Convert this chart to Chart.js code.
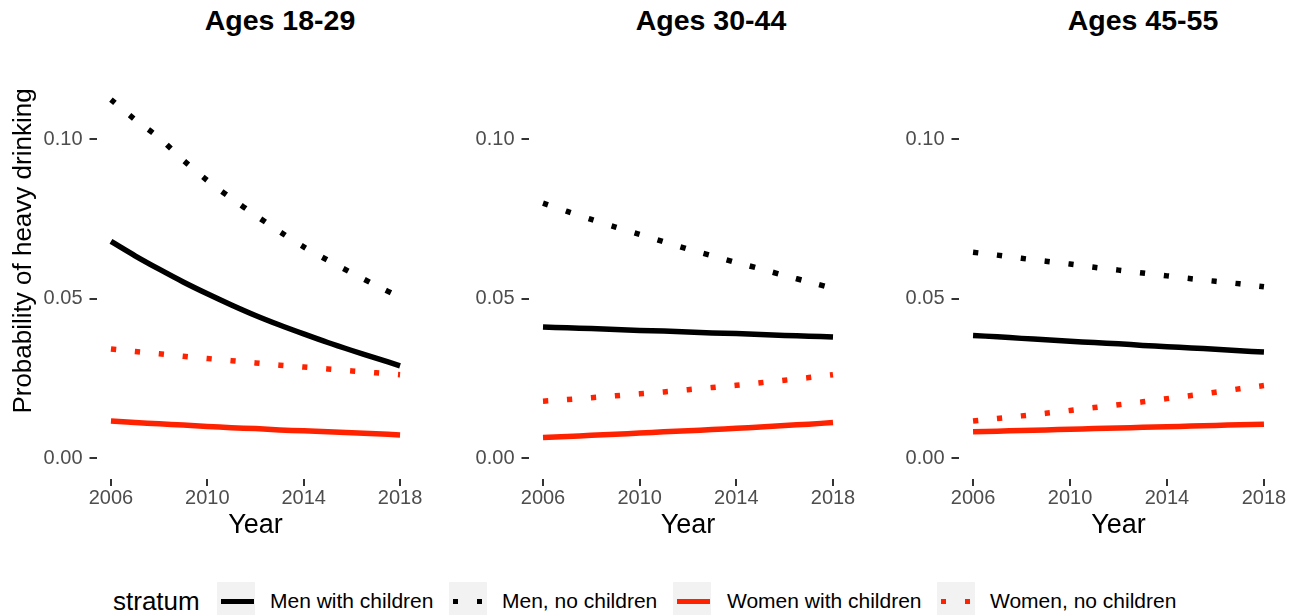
<!DOCTYPE html>
<html>
<head>
<meta charset="utf-8">
<script src="https://cdn.jsdelivr.net/npm/chart.js@4/dist/chart.umd.min.js"></script>
<style>
  html,body{margin:0;padding:0;background:#fff;}
  body{width:1303px;height:615px;overflow:hidden;position:relative;font-family:"Liberation Sans",Arial,Helvetica,sans-serif;}
  .panel{position:absolute;top:0;}
  .ptitle{position:absolute;top:6px;font-weight:bold;font-size:28.5px;line-height:28.5px;color:#000;transform:translateX(-50%);white-space:nowrap;}
  .legend{position:absolute;left:0;top:582px;height:38px;width:1303px;}
  .ltitle{position:absolute;top:0;height:38px;line-height:38px;font-size:26px;color:#000;}
  .lkey{position:absolute;top:0;width:38px;height:38px;background:#f2f2f2;}
  .lkey .seg{position:absolute;}
  .llabel{position:absolute;top:0;height:38px;line-height:38px;font-size:21px;color:#000;white-space:nowrap;}
</style>
</head>
<body>
<div class="ptitle" style="left:280px">Ages 18-29</div>
<div class="ptitle" style="left:711px">Ages 30-44</div>
<div class="ptitle" style="left:1143px">Ages 45-55</div>

<div class="panel" style="left:0px;width:430px;height:542px"><canvas id="c1" width="430" height="542"></canvas></div>
<div class="panel" style="left:460px;width:402px;height:542px"><canvas id="c2" width="402" height="542"></canvas></div>
<div class="panel" style="left:890px;width:403px;height:542px"><canvas id="c3" width="403" height="542"></canvas></div>

<div class="legend" id="legend"></div>

<script>
// ---- data ----
const years = [2006, 2007, 2008, 2009, 2010, 2011, 2012, 2013, 2014, 2015, 2016, 2017, 2018];
const panelTitles = ["Ages 18-29", "Ages 30-44", "Ages 45-55"];
const strata = ["Men with children", "Men, no children", "Women with children", "Women, no children"];
const xTicks = [2006, 2010, 2014, 2018];
const yTicks = [0.00, 0.05, 0.10];

// Ages 18-29
const menChildren1   = [0.0680, 0.0635, 0.0593, 0.0553, 0.0516, 0.0481, 0.0448, 0.0418, 0.0390, 0.0363, 0.0338, 0.0314, 0.0290];
const menNoChildren1 = [0.1125, 0.1062, 0.1005, 0.0935, 0.0871, 0.0815, 0.0762, 0.0711, 0.0663, 0.0621, 0.0581, 0.0542, 0.0505];
const womenChildren1 = [0.0117, 0.0112, 0.0108, 0.0104, 0.0100, 0.0096, 0.0093, 0.0089, 0.0086, 0.0083, 0.0080, 0.0077, 0.0073];
const womenNoChildren1 = [0.0343, 0.0335, 0.0328, 0.0320, 0.0313, 0.0306, 0.0299, 0.0292, 0.0286, 0.0280, 0.0274, 0.0268, 0.0262];
// Ages 30-44
const menChildren2   = [0.0412, 0.0409, 0.0407, 0.0404, 0.0401, 0.0399, 0.0396, 0.0393, 0.0391, 0.0388, 0.0385, 0.0383, 0.0380];
const menNoChildren2 = [0.0800, 0.0774, 0.0749, 0.0725, 0.0702, 0.0679, 0.0656, 0.0635, 0.0614, 0.0594, 0.0573, 0.0553, 0.0533];
const womenChildren2 = [0.0065, 0.0068, 0.0072, 0.0075, 0.0079, 0.0083, 0.0086, 0.0090, 0.0094, 0.0098, 0.0103, 0.0107, 0.0112];
const womenNoChildren2 = [0.0179, 0.0184, 0.0190, 0.0196, 0.0202, 0.0208, 0.0215, 0.0222, 0.0229, 0.0237, 0.0245, 0.0253, 0.0262];
// Ages 45-55
const menChildren3   = [0.0385, 0.0381, 0.0376, 0.0372, 0.0367, 0.0363, 0.0359, 0.0354, 0.0350, 0.0346, 0.0342, 0.0337, 0.0333];
const menNoChildren3 = [0.0646, 0.0637, 0.0627, 0.0618, 0.0609, 0.0599, 0.0590, 0.0581, 0.0572, 0.0563, 0.0555, 0.0547, 0.0538];
const womenChildren3 = [0.0083, 0.0085, 0.0087, 0.0089, 0.0091, 0.0093, 0.0095, 0.0097, 0.0099, 0.0101, 0.0103, 0.0105, 0.0107];
const womenNoChildren3 = [0.0117, 0.0125, 0.0133, 0.0141, 0.0150, 0.0159, 0.0168, 0.0177, 0.0187, 0.0197, 0.0207, 0.0218, 0.0228];

// ---- styling ----
const FONT = '"Liberation Sans", Arial, Helvetica, sans-serif';
const BLACK = '#000000';
const RED = '#ff2200';
const LW = 5.5;
const DOT = [5.5, 18.5];
const styles = [
  {color: BLACK, dash: []},
  {color: BLACK, dash: DOT},
  {color: RED, dash: []},
  {color: RED, dash: DOT}
];

function toXY(arr){ return years.map((y, i) => ({x: y, y: arr[i]})); }

function makeChart(id, series, opts){
  const datasets = series.map((arr, i) => ({
    label: strata[i],
    data: toXY(arr),
    borderColor: styles[i].color,
    backgroundColor: styles[i].color,
    borderWidth: LW,
    borderDash: styles[i].dash,
    borderCapStyle: 'butt',
    borderJoinStyle: 'round',
    pointRadius: 0,
    tension: 0.3,
    fill: false
  }));
  return new Chart(document.getElementById(id), {
    type: 'line',
    data: {datasets},
    options: {
      responsive: false,
      animation: false,
      events: [],
      layout: {padding: {top: 23, right: opts.padRight, left: 0, bottom: 0}},
      plugins: {legend: {display: false}, tooltip: {enabled: false}, title: {display: false}},
      scales: {
        x: {
          type: 'linear',
          min: 2005.4, max: 2018.6,
          afterBuildTicks: s => { s.ticks = xTicks.map(v => ({value: v})); },
          afterFit: s => { s.height = 63; },
          ticks: {
            autoSkip: false, maxRotation: 0, padding: 0,
            color: '#4d4d4d', font: {family: FONT, size: 20},
            callback: v => String(v)
          },
          grid: {display: true, drawOnChartArea: false, drawTicks: true, tickLength: 7, color: '#333333', lineWidth: 2},
          border: {display: false},
          title: {display: true, text: 'Year', color: '#000', font: {family: FONT, size: 27}, padding: {top: 0, bottom: 0}}
        },
        y: {
          type: 'linear',
          min: -0.0065, max: 0.1365,
          afterBuildTicks: s => { s.ticks = yTicks.map(v => ({value: v})); },
          afterFit: s => { s.width = opts.yWidth; },
          ticks: {
            autoSkip: false, padding: 7,
            color: '#4d4d4d', font: {family: FONT, size: 20},
            callback: v => Number(v).toFixed(2)
          },
          grid: {display: true, drawOnChartArea: false, drawTicks: true, tickLength: 7, color: '#333333', lineWidth: 2},
          border: {display: false},
          title: {display: opts.yTitle, text: 'Probability of heavy drinking', color: '#000', font: {family: FONT, size: 26}, padding: {top: 8, bottom: 0}}
        }
      }
    }
  });
}

makeChart('c1', [menChildren1, menNoChildren1, womenChildren1, womenNoChildren1], {yWidth: 96.5, padRight: 15.5, yTitle: true});
makeChart('c2', [menChildren2, menNoChildren2, womenChildren2, womenNoChildren2], {yWidth: 68.5, padRight: 14.5, yTitle: false});
makeChart('c3', [menChildren3, menNoChildren3, womenChildren3, womenNoChildren3], {yWidth: 68.5, padRight: 14.5, yTitle: false});

// ---- legend (HTML) ----
const legend = document.getElementById('legend');
const legendPos = [
  {box: 216.5, label: 270},
  {box: 449, label: 502},
  {box: 673, label: 727},
  {box: 937, label: 990}
];
const lt = document.createElement('div');
lt.className = 'ltitle'; lt.style.left = '113px'; lt.textContent = 'stratum';
legend.appendChild(lt);
strata.forEach((name, i) => {
  const key = document.createElement('div');
  key.className = 'lkey'; key.style.left = legendPos[i].box + 'px';
  if (styles[i].dash.length === 0) {
    const seg = document.createElement('div');
    seg.className = 'seg';
    seg.style.cssText = `left:4px;width:33px;top:16.5px;height:5px;background:${styles[i].color}`;
    key.appendChild(seg);
  } else {
    [4, 28].forEach(x => {
      const seg = document.createElement('div');
      seg.className = 'seg';
      seg.style.cssText = `left:${x}px;width:5px;top:16.5px;height:5px;background:${styles[i].color}`;
      key.appendChild(seg);
    });
  }
  legend.appendChild(key);
  const lab = document.createElement('div');
  lab.className = 'llabel'; lab.style.left = legendPos[i].label + 'px';
  lab.textContent = name;
  legend.appendChild(lab);
});
</script>
</body>
</html>
